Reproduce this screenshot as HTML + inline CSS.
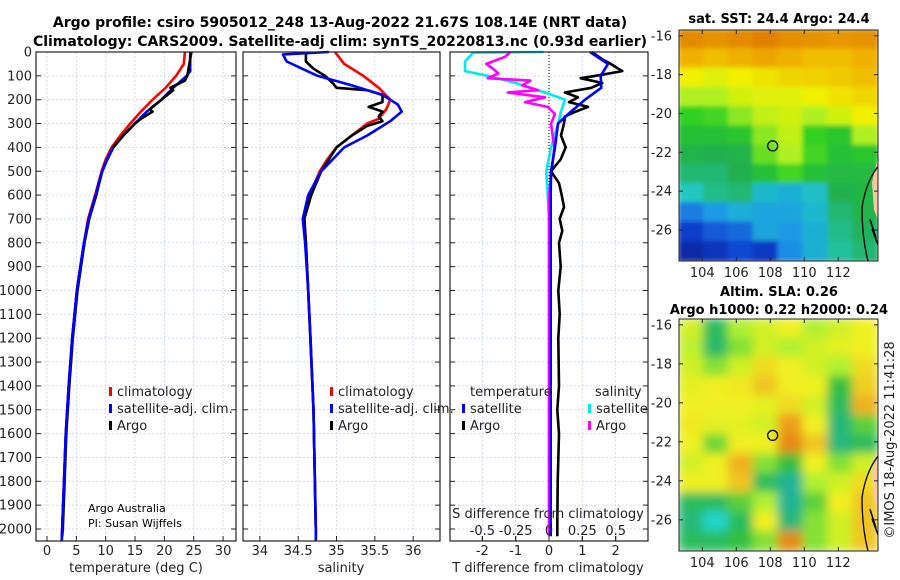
<!DOCTYPE html>
<html><head><meta charset="utf-8"><style>
body{margin:0;background:#fff;}
svg{display:block;font-family:"DejaVu Sans","Liberation Sans",sans-serif;}
</style></head><body>
<svg id="fig" width="900" height="580" viewBox="0 0 900 580">
<defs><filter id="blur" x="0" y="0" width="1" height="1"><feGaussianBlur stdDeviation="5"/></filter>
<filter id="blur2" x="0" y="0" width="1" height="1"><feGaussianBlur stdDeviation="2.5"/></filter>
<clipPath id="c1"><rect x="679" y="30" width="199" height="231"/></clipPath>
<clipPath id="c2"><rect x="679" y="319" width="199" height="232"/></clipPath></defs>
<text x="340" y="27" text-anchor="middle" font-size="14" font-weight="bold">Argo profile: csiro 5905012_248 13-Aug-2022 21.67S 108.14E (NRT data)</text>
<text x="340" y="46" text-anchor="middle" font-size="14" font-weight="bold">Climatology: CARS2009. Satellite-adj clim: synTS_20220813.nc (0.93d earlier)</text>
<g id="g"></g>
<text x="779" y="23" text-anchor="middle" font-size="13" font-weight="bold">sat. SST: 24.4 Argo: 24.4</text>
<text x="779" y="296" text-anchor="middle" font-size="13" font-weight="bold">Altim. SLA: 0.26</text>
<text x="779" y="314" text-anchor="middle" font-size="13" font-weight="bold">Argo h1000: 0.22 h2000: 0.24</text>
<text transform="translate(894,440) rotate(-90)" text-anchor="middle" font-size="13" fill="#222">©IMOS 18-Aug-2022 11:41:28</text>
<text x="88" y="512" font-size="11">Argo Australia</text>
<text x="88" y="527" font-size="11">PI: Susan Wijffels</text>
</svg>
<script>
const depthTicks=[0,100,200,300,400,500,600,700,800,900,1000,1100,1200,1300,1400,1500,1600,1700,1800,1900,2000];
const tTicks=[0,5,10,15,20,25,30];
const sTicks=[34,34.5,35,35.5,36];
const sTickLabels=['34','34.5','35','35.5','36'];
const dtTicks=[-2,-1,0,1,2];
const dsTicks=[-0.5,-0.25,0,0.25,0.5];
const dsTickLabels=['-0.5','-0.25','0','0.25','0.5'];
const latTicks=[-16,-18,-20,-22,-24,-26];
const lonTicks=[104,106,108,110,112];

const climTdep=[0,50,100,150,200,250,300,350,400,450,500,600,700,800,900,1000,1200,1400,1600,1800,2000,2050];
const climT=[23.5,23.3,22,20.2,18,16,14.2,12.5,11,10,9.3,8.2,7,6.3,5.7,5.1,4.3,3.7,3.2,2.9,2.6,2.5];
const satTdep=[0,80,100,150,200,250,300,350,400,450,500,600,700,800,900,1000,1200,1400,1600,1800,2000,2050];
const satT=[24.4,24.4,23.8,21.5,19.5,17,15,13,11.3,10.2,9.4,8.3,7.1,6.3,5.7,5.1,4.3,3.7,3.2,2.9,2.6,2.5];
const argoTdep=[0,100,120,150,160,200,240,250,280,300,350,400,450,500,550,600,700,800,900,1000,1200,1400,1600,1800,2000,2030];
const argoT=[24.6,23.9,23.5,21,21.5,19.5,17.5,18,16,15,13,11.3,10.3,9.4,8.9,8.4,7.2,6.4,5.8,5.2,4.4,3.8,3.3,3,2.7,2.6];

const climSdep=[0,50,100,150,200,240,280,300,350,400,450,500,600,650,700,800,1000,1200,1500,2000,2050];
const climS=[34.98,35.1,35.35,35.55,35.7,35.65,35.55,35.4,35.2,35.0,34.88,34.78,34.65,34.6,34.58,34.6,34.63,34.66,34.7,34.73,34.73];
const satSdep=[0,10,40,100,140,180,220,250,290,350,400,500,600,700,800,1000,1200,1500,2000,2050];
const satS=[34.9,34.3,34.35,34.75,35.2,35.6,35.8,35.85,35.7,35.4,35.1,34.8,34.63,34.56,34.59,34.63,34.66,34.7,34.73,34.73];
const argoSdep=[0,40,70,100,130,150,160,180,210,230,250,270,290,310,350,400,500,600,700,800,1000,1500,2000,2030];
const argoS=[34.6,34.6,34.7,34.85,34.95,35.0,35.4,35.6,35.6,35.42,35.6,35.55,35.6,35.4,35.2,35.0,34.8,34.67,34.58,34.6,34.63,34.7,34.73,34.73];

const dTsatDep=[0,50,100,150,200,250,300,400,500,600,800,1000,1500,2000,2030];
const dTsat=[1.23,1.77,1.55,1.57,1.08,0.66,0.27,0.18,0.06,0.05,0.05,0.05,0.05,0.05,0.05];
const dTargoDep=[0,30,50,80,100,110,130,150,170,190,210,230,250,270,300,350,400,450,500,550,600,650,700,750,800,900,1000,1100,1200,1400,1500,1600,1800,2000,2030];
const dTargo=[1.28,1.6,1.85,2.2,1.4,0.95,1.6,1.27,0.48,0.87,0.6,1.17,0.8,0.48,0.45,0.36,0.5,0.35,0.06,0.3,0.38,0.45,0.32,0.4,0.3,0.35,0.28,0.32,0.28,0.3,0.25,0.3,0.26,0.25,0.25];
const dSsatDep=[0,3,40,80,100,130,170,200,250,300,400,500,600,700,1000,2000,2030];
const dSsat=[-0.04,-0.57,-0.63,-0.63,-0.46,-0.25,-0.03,0.12,0.09,0.07,0.015,-0.02,-0.01,0,0,0,0];
const dSargoDep=[0,20,50,70,90,110,120,140,160,170,190,210,230,260,300,400,500,600,1000,2000,2030];
const dSargo=[-0.29,-0.33,-0.47,-0.42,-0.38,-0.46,-0.14,-0.2,-0.08,-0.31,-0.03,-0.18,-0.01,0.045,0.015,0.04,0.02,0,0,0,0];

const sstGrid=[
[.88,.86,.88,.9,.87,.86,.85,.86],[.8,.78,.8,.82,.8,.78,.78,.8],[.7,.68,.7,.72,.74,.75,.76,.78],
[.62,.62,.66,.68,.68,.7,.72,.74],[.55,.56,.6,.64,.66,.62,.66,.7],[.5,.5,.52,.6,.64,.55,.52,.62],
[.46,.45,.46,.58,.62,.56,.5,.52],[.42,.42,.45,.5,.56,.5,.48,.48],[.35,.4,.42,.32,.3,.33,.45,.47],
[.22,.26,.3,.28,.28,.32,.42,.46],[.14,.18,.2,.28,.26,.3,.4,.44],[.06,.1,.16,.12,.24,.3,.38,.42]];
const slaGrid=[
[.55,.3,.5,.55,.6,.5,.55,.6],[.52,.28,.45,.55,.5,.55,.58,.6],[.55,.45,.55,.65,.6,.55,.5,.65],
[.58,.6,.62,.7,.6,.6,.35,.68],[.6,.6,.6,.58,.65,.55,.3,.75],[.62,.58,.58,.55,.8,.6,.25,.4],
[.6,.42,.6,.6,.85,.7,.25,.3],[.55,.6,.75,.45,.35,.6,.45,.55],[.6,.6,.7,.3,.2,.5,.55,.65],
[.3,.3,.4,.5,.2,.4,.6,.7],[.25,.05,.3,.6,.25,.45,.55,.7],[.3,.3,.35,.45,.85,.45,.55,.7]];
const argoLon=108.14, argoLat=-21.67;

const NS='http://www.w3.org/2000/svg';
const G=document.getElementById('g');
function mk(tag,attrs,parent){const e=document.createElementNS(NS,tag);for(const k in attrs)e.setAttribute(k,attrs[k]);(parent||G).appendChild(e);return e;}
const yD=d=>52+d*0.2385;
const TOP=52,BOT=541;
const panels=[
 {x0:36,x1:236,min:-1.87,max:32.2,name:'temperature'},
 {x0:243,x1:440,min:33.78,max:36.35,name:'salinity'},
 {x0:450,x1:648,min:-2.97,max:2.97,name:'diff'}];
const fx=(p,v)=>p.x0+(v-p.min)/(p.max-p.min)*(p.x1-p.x0);
const fS=v=>fx(panels[2],v*4);
function grid(p,xs){
 depthTicks.forEach(d=>{const l=mk('line',{x1:p.x0,x2:p.x1,y1:yD(d),y2:yD(d),stroke:'#c9d0ea','stroke-width':0.8,'stroke-dasharray':'2,2'});
  mk('line',{x1:p.x0,x2:p.x0+5,y1:yD(d),y2:yD(d),stroke:'#222'});mk('line',{x1:p.x1,x2:p.x1-5,y1:yD(d),y2:yD(d),stroke:'#222'});});
 xs.forEach(x=>{const l=mk('line',{x1:x,x2:x,y1:TOP,y2:BOT,stroke:'#c9d0ea','stroke-width':0.8,'stroke-dasharray':'2,2'});
  mk('line',{x1:x,x2:x,y1:BOT,y2:BOT-5,stroke:'#222'});});
}
function frame(p,name){const r=mk('rect',{x:p.x0,y:TOP,width:p.x1-p.x0,height:BOT-TOP,fill:'none',stroke:'#222','stroke-width':1.2});}
function line(p,dep,val,col,name,f){const pts=dep.map((d,i)=>(f?f(val[i]):fx(p,val[i])).toFixed(1)+','+yD(d).toFixed(1)).join(' ');
 const e=mk('polyline',{points:pts,fill:'none',stroke:col,'stroke-width':2.6,'stroke-linejoin':'round'});}
function txt(x,y,s,o){const e=mk('text',Object.assign({x:x,y:y,'font-size':13,fill:'#222'},o||{}));e.textContent=s;return e;}
const p1=panels[0],p2=panels[1],p3=panels[2];
grid(p1,tTicks.map(t=>fx(p1,t)));
depthTicks.forEach(d=>{const e=txt(32,yD(d)+4.5,String(d),{'text-anchor':'end'});});
tTicks.forEach(t=>{const e=txt(fx(p1,t),555,String(t),{'text-anchor':'middle'});});
line(p1,climTdep,climT,'#f00','temp-climatology-line');
line(p1,satTdep,satT,'#00f','temp-satellite-line');
line(p1,argoTdep,argoT,'#000','temp-argo-line');
line(p1,satTdep.slice(8),satT.slice(8),'#00f','temp-satellite-line-deep');
frame(p1,'temperature-axes');
let e=txt(136,572,'temperature (deg C)',{'text-anchor':'middle'});
grid(p2,sTicks.map(s=>fx(p2,s)));
sTicks.forEach((s,i)=>{const e=txt(fx(p2,s),555,sTickLabels[i],{'text-anchor':'middle'});});
line(p2,climSdep,climS,'#f00','sal-climatology-line');
line(p2,argoSdep,argoS,'#000','sal-argo-line');
line(p2,satSdep,satS,'#00f','sal-satellite-line');
frame(p2,'salinity-axes');
e=txt(341,572,'salinity',{'text-anchor':'middle'});
grid(p3,dtTicks.map(t=>fx(p3,t)));
mk('line',{x1:fx(p3,0),x2:fx(p3,0),y1:TOP,y2:yD(700),stroke:'#000','stroke-width':1,'stroke-dasharray':'1,2'});
dsTicks.forEach(s=>{mk('line',{x1:fS(s),x2:fS(s),y1:BOT,y2:BOT-5,stroke:'#222'});});
line(p3,dSsatDep,dSsat,'#00e8f0','sal-diff-satellite-line',fS);
line(p3,dSargoDep,dSargo,'#f0f','sal-diff-argo-line',fS);
line(p3,dTargoDep,dTargo,'#000','temp-diff-argo-line');
line(p3,dTsatDep,dTsat,'#00f','temp-diff-satellite-line');
frame(p3,'difference-axes');
dtTicks.forEach(t=>{const e=txt(fx(p3,t),555,String(t),{'text-anchor':'middle'});});
dsTicks.forEach((s,i)=>{const e=txt(fS(s),535,dsTickLabels[i],{'text-anchor':'middle'});});
e=txt(548,518,'S difference from climatology',{'text-anchor':'middle'});
e=txt(548,572,'T difference from climatology',{'text-anchor':'middle'});
function leg(x,y,col,label,name){mk('rect',{x:x,y:y-9,width:3,height:9,fill:col});const e=txt(x+8,y,label);}
leg(109,396,'#f00','climatology','legend-climatology');leg(109,413,'#00f','satellite-adj. clim.','legend-satellite-adj');leg(109,430,'#000','Argo','legend-argo');
leg(330,396,'#f00','climatology','legend-climatology-2');leg(330,413,'#00f','satellite-adj. clim.','legend-satellite-adj-2');leg(330,430,'#000','Argo','legend-argo-2');
e=txt(470,396,'temperature');
leg(462,413,'#00f','satellite','legend-temp-satellite');leg(462,430,'#000','Argo','legend-temp-argo');
e=txt(595,396,'salinity');
leg(588,413,'#00e8f0','satellite','legend-sal-satellite');leg(588,430,'#f0f','Argo','legend-sal-argo');
function interp(stops,v){for(let i=1;i<stops.length;i++){if(v<=stops[i][0]){const a=stops[i-1],b=stops[i],t=(v-a[0])/(b[0]-a[0]);return 'rgb('+[0,1,2].map(k=>Math.round(a[1][k]+(b[1][k]-a[1][k])*t)).join(',')+')';}}const l=stops[stops.length-1][1];return 'rgb('+l.join(',')+')';}
const sstStops=[[0,[10,30,140]],[0.15,[16,64,208]],[0.25,[30,150,232]],[0.35,[32,200,192]],[0.45,[32,176,80]],[0.55,[48,208,32]],[0.62,[176,240,32]],[0.7,[240,240,0]],[0.8,[240,176,0]],[0.9,[224,128,0]],[1,[210,110,0]]];
const slaStops=[[0,[32,224,224]],[0.2,[32,180,150]],[0.35,[48,192,64]],[0.5,[176,240,48]],[0.6,[240,240,32]],[0.75,[240,176,32]],[0.9,[224,120,16]],[1,[210,100,10]]];
function lonX(l){return 679+(l-102.63)*17;}
function map(gridv,stops,top,h,clip,filt,name){
 const gg=mk('g',{'clip-path':'url(#'+clip+')'});
 const inner=mk('g',{filter:'url(#'+filt+')'},gg);
 const cw=199/gridv[0].length,ch=h/gridv.length;
 gridv.forEach((row,r)=>row.forEach((v,c)=>{const cell=mk('rect',{x:679+c*cw-1,y:top+r*ch-1,width:cw+2,height:ch+2,fill:interp(stops,v)},inner);}));
 mk('path',{d:`M878,${top+0.55*h} L872,${top+0.66*h} L874,${top+0.78*h} L878,${top+0.82*h} Z`,fill:'#f8c8a0'},gg);
 mk('path',{d:`M880,${top+0.58*h} Q866,${top+0.65*h} 862,${top+0.77*h} Q862,${top+0.9*h} 868,${top+1.0*h}`,fill:'none',stroke:'#000','stroke-width':1.3},gg);
 mk('path',{d:`M870,${top+0.82*h} L876,${top+0.9*h} M872,${top+0.86*h} L878,${top+0.93*h}`,fill:'none',stroke:'#000','stroke-width':1.5},gg);
 const ax=mk('rect',{x:679,y:top,width:199,height:h,fill:'none',stroke:'#222','stroke-width':1});
 const cy=top+(-15.7-argoLat)/11.9*h;
 const m=mk('circle',{cx:lonX(argoLon),cy:cy,r:5,fill:'none',stroke:'#000','stroke-width':1.3});
 latTicks.forEach(l=>{const y=top+(-15.7-l)/11.9*h;mk('line',{x1:679,x2:683,y1:y,y2:y,stroke:'#222'});mk('line',{x1:878,x2:874,y1:y,y2:y,stroke:'#222'});
  const t=txt(672,y+4.5,String(l),{'text-anchor':'end'});});
 lonTicks.forEach(l=>{const x=lonX(l);mk('line',{x1:x,x2:x,y1:top+h,y2:top+h-4,stroke:'#222'});mk('line',{x1:x,x2:x,y1:top,y2:top+4,stroke:'#222'});
  const t=txt(x,top+h+16,String(l),{'text-anchor':'middle'});});
}
map(sstGrid,sstStops,30,231,'c1','blur2','sst-map');
map(slaGrid,slaStops,319,232,'c2','blur','sla-map');
</script>
</body></html>
